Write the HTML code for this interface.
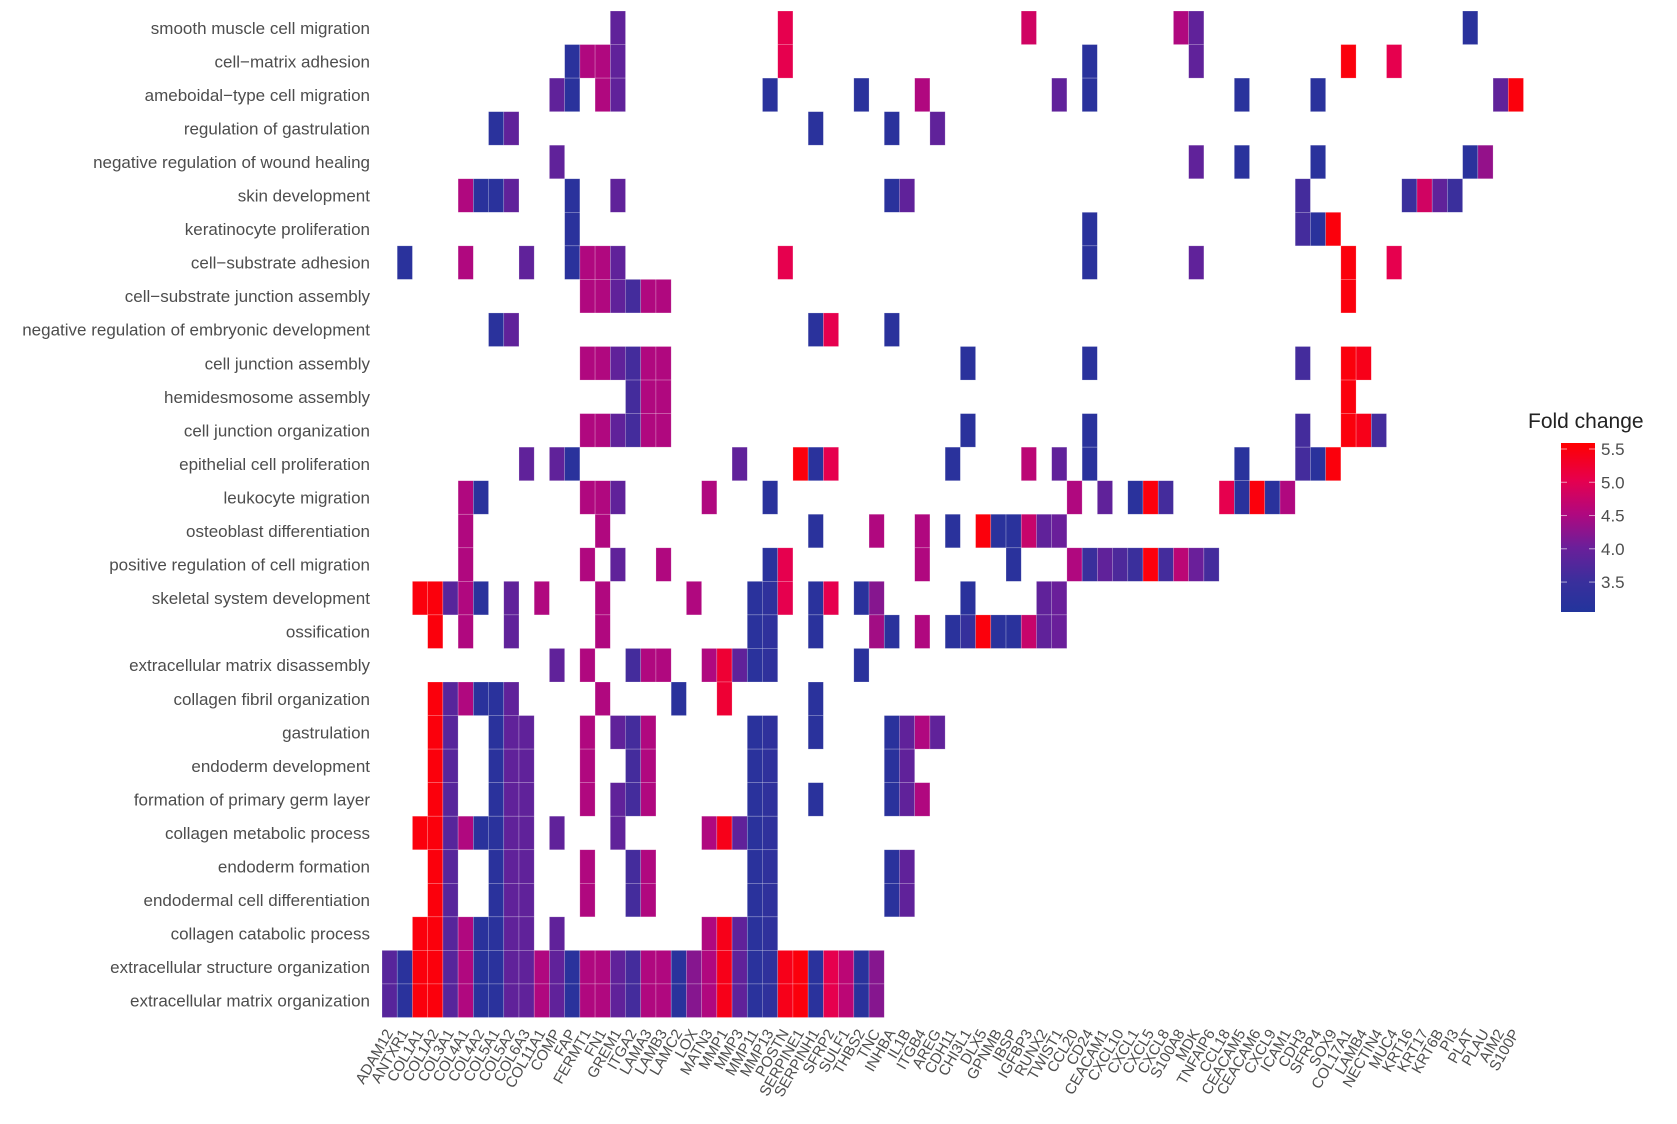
<!DOCTYPE html>
<html>
<head>
<meta charset="utf-8">
<style>
  html,body{margin:0;padding:0;background:#fff;}
  svg{display:block;font-family:"Liberation Sans",Arial,sans-serif;}
</style>
</head>
<body>
<svg id="chart" width="1677" height="1124" viewBox="0 0 1677 1124" xmlns="http://www.w3.org/2000/svg">
  <g id="cells"></g>
  <g id="ylabels"></g>
  <g id="xlabels"></g>
  <g id="legend">
    <defs>
      <linearGradient id="lg" x1="0" y1="1" x2="0" y2="0">
        <stop offset="0" stop-color="#22349c"/>
        <stop offset="0.18" stop-color="#3a2f9c"/>
        <stop offset="0.38" stop-color="#6a1f9a"/>
        <stop offset="0.58" stop-color="#b0087f"/>
        <stop offset="0.78" stop-color="#e6004e"/>
        <stop offset="1" stop-color="#ff0000"/>
      </linearGradient>
    </defs>
    <text x="1528" y="428" font-size="21" fill="#222">Fold change</text>
    <rect x="1561" y="443" width="34" height="169" fill="url(#lg)"/>
    <g id="legendticks"></g>
  </g>
</svg>
<script>
const terms = ["smooth muscle cell migration","cell\u2212matrix adhesion","ameboidal\u2212type cell migration","regulation of gastrulation","negative regulation of wound healing","skin development","keratinocyte proliferation","cell\u2212substrate adhesion","cell\u2212substrate junction assembly","negative regulation of embryonic development","cell junction assembly","hemidesmosome assembly","cell junction organization","epithelial cell proliferation","leukocyte migration","osteoblast differentiation","positive regulation of cell migration","skeletal system development","ossification","extracellular matrix disassembly","collagen fibril organization","gastrulation","endoderm development","formation of primary germ layer","collagen metabolic process","endoderm formation","endodermal cell differentiation","collagen catabolic process","extracellular structure organization","extracellular matrix organization"];
const genes = ["ADAM12","ANTXR1","COL1A1","COL1A2","COL3A1","COL4A1","COL4A2","COL5A1","COL5A2","COL6A3","COL11A1","COMP","FAP","FERMT1","FN1","GREM1","ITGA2","LAMA3","LAMB3","LAMC2","LOX","MATN3","MMP1","MMP3","MMP11","MMP13","POSTN","SERPINE1","SERPINH1","SFRP2","SULF1","THBS2","TNC","INHBA","IL1B","ITGB4","AREG","CDH11","CHI3L1","DLX5","GPNMB","IBSP","IGFBP3","RUNX2","TWIST1","CCL20","CD24","CEACAM1","CXCL10","CXCL1","CXCL5","CXCL8","S100A8","MDK","TNFAIP6","CCL18","CEACAM5","CEACAM6","CXCL9","ICAM1","CDH3","SFRP4","SOX9","COL17A1","LAMB4","NECTIN4","MUC4","KRT16","KRT17","KRT6B","PI3","PLAT","PLAU","AIM2","S100P"];
const legendTicks = [3.5, 4.0, 4.5, 5.0, 5.5];
// per-term sparse values: [geneIndex, foldChange]
const r0 = [[15,3.9],[26,5.0],[42,4.8],[52,4.5],[53,3.9],[71,3.2]];
const r1 = [[12,3.2],[13,4.5],[14,4.5],[15,3.9],[26,5.0],[46,3.2],[53,3.9],[63,5.5],[66,5.0]];
const r2 = [[11,3.9],[12,3.2],[14,4.5],[15,3.9],[25,3.2],[31,3.2],[35,4.5],[44,3.9],[46,3.2],[56,3.2],[61,3.2],[73,3.9],[74,5.5]];
const r3 = [[7,3.2],[8,3.9],[28,3.2],[33,3.2],[36,3.9]];
const r4 = [[11,3.9],[53,3.9],[56,3.2],[61,3.2],[71,3.2],[72,4.3]];
const r5 = [[5,4.5],[6,3.2],[7,3.2],[8,3.9],[12,3.2],[15,3.9],[33,3.2],[34,3.9],[60,3.6],[67,3.5],[68,4.8],[69,3.9],[70,3.5]];
const r6 = [[12,3.2],[46,3.2],[60,3.6],[61,3.2],[62,5.5]];
const r7 = [[1,3.2],[5,4.5],[9,3.9],[12,3.2],[13,4.5],[14,4.5],[15,3.9],[26,5.0],[46,3.2],[53,3.9],[63,5.5],[66,5.0]];
const r8 = [[13,4.5],[14,4.5],[15,3.9],[16,3.6],[17,4.5],[18,4.5],[63,5.5]];
const r9 = [[7,3.2],[8,3.9],[28,3.2],[29,5.0],[33,3.2]];
const r10 = [[13,4.5],[14,4.5],[15,3.9],[16,3.6],[17,4.5],[18,4.5],[38,3.2],[46,3.2],[60,3.6],[63,5.5],[64,5.4]];
const r11 = [[16,3.6],[17,4.5],[18,4.5],[63,5.5]];
const r12 = [[13,4.5],[14,4.5],[15,3.9],[16,3.6],[17,4.5],[18,4.5],[38,3.2],[46,3.2],[60,3.6],[63,5.5],[64,5.4],[65,3.6]];
const r13 = [[9,3.9],[11,3.9],[12,3.2],[23,3.9],[27,5.5],[28,3.2],[29,5.0],[37,3.2],[42,4.6],[44,3.9],[46,3.2],[56,3.2],[60,3.6],[61,3.2],[62,5.5]];
const r14 = [[5,4.5],[6,3.2],[13,4.5],[14,4.5],[15,3.9],[21,4.5],[25,3.2],[45,4.5],[47,3.9],[49,3.2],[50,5.5],[51,3.6],[55,5.0],[56,3.2],[57,5.5],[58,3.2],[59,4.5]];
const r15 = [[5,4.5],[14,4.5],[28,3.2],[32,4.5],[35,4.5],[37,3.2],[39,5.5],[40,3.2],[41,3.2],[42,4.7],[43,3.9],[44,4.0]];
const r16 = [[5,4.5],[13,4.5],[15,3.9],[18,4.5],[25,3.2],[26,5.0],[35,4.5],[41,3.2],[45,4.5],[46,3.5],[47,3.9],[48,3.7],[49,3.5],[50,5.5],[51,3.6],[52,4.6],[53,4.0],[54,3.6]];
const r17 = [[2,5.5],[3,5.5],[4,3.8],[5,4.5],[6,3.2],[8,3.9],[10,4.5],[14,4.5],[20,4.5],[24,3.2],[25,3.3],[26,5.0],[28,3.2],[29,5.0],[31,3.2],[32,4.2],[38,3.2],[43,3.9],[44,4.0]];
const r18 = [[3,5.5],[5,4.5],[8,3.9],[14,4.5],[24,3.2],[25,3.3],[28,3.2],[32,4.4],[33,3.2],[35,4.5],[37,3.2],[38,3.4],[39,5.5],[40,3.2],[41,3.2],[42,4.7],[43,3.9],[44,4.0]];
const r19 = [[11,3.9],[13,4.5],[16,3.6],[17,4.5],[18,4.5],[21,4.5],[22,5.2],[23,3.9],[24,3.2],[25,3.3],[31,3.2]];
const r20 = [[3,5.5],[4,3.8],[5,4.5],[6,3.2],[7,3.2],[8,3.9],[14,4.5],[19,3.2],[22,5.2],[28,3.2]];
const r21 = [[3,5.5],[4,3.8],[7,3.2],[8,3.9],[9,3.9],[13,4.5],[15,3.9],[16,3.6],[17,4.5],[24,3.2],[25,3.3],[28,3.2],[33,3.2],[34,3.9],[35,4.5],[36,3.9]];
const r22 = [[3,5.5],[4,3.8],[7,3.2],[8,3.9],[9,3.9],[13,4.5],[16,3.6],[17,4.5],[24,3.2],[25,3.3],[33,3.2],[34,3.9]];
const r23 = [[3,5.5],[4,3.8],[7,3.2],[8,3.9],[9,3.9],[13,4.5],[15,3.9],[16,3.6],[17,4.5],[24,3.2],[25,3.3],[28,3.2],[33,3.2],[34,3.9],[35,4.5]];
const r24 = [[2,5.5],[3,5.5],[4,3.8],[5,4.5],[6,3.2],[7,3.2],[8,3.9],[9,3.9],[11,3.9],[15,3.9],[21,4.5],[22,5.4],[23,3.9],[24,3.2],[25,3.3]];
const r25 = [[3,5.5],[4,3.8],[7,3.2],[8,3.9],[9,3.9],[13,4.5],[16,3.6],[17,4.5],[24,3.2],[25,3.3],[33,3.2],[34,3.9]];
const r26 = [[3,5.5],[4,3.8],[7,3.2],[8,3.9],[9,3.9],[13,4.5],[16,3.6],[17,4.5],[24,3.2],[25,3.3],[33,3.2],[34,3.9]];
const r27 = [[2,5.5],[3,5.5],[4,3.8],[5,4.5],[6,3.2],[7,3.2],[8,3.9],[9,3.9],[11,3.9],[21,4.5],[22,5.4],[23,3.9],[24,3.2],[25,3.3]];
const r28 = [[0,3.8],[1,3.2],[2,5.5],[3,5.5],[4,3.8],[5,4.5],[6,3.2],[7,3.2],[8,3.9],[9,3.9],[10,4.5],[11,3.9],[12,3.2],[13,4.5],[14,4.5],[15,3.9],[16,3.6],[17,4.5],[18,4.5],[19,3.2],[20,4.2],[21,4.5],[22,5.4],[23,3.9],[24,3.2],[25,3.3],[26,5.4],[27,5.5],[28,3.2],[29,5.0],[30,4.6],[31,3.2],[32,4.2]];
const r29 = [[0,3.8],[1,3.2],[2,5.5],[3,5.5],[4,3.8],[5,4.5],[6,3.2],[7,3.2],[8,3.9],[9,3.9],[10,4.5],[11,3.9],[12,3.2],[13,4.5],[14,4.5],[15,3.9],[16,3.6],[17,4.5],[18,4.5],[19,3.2],[20,4.2],[21,4.5],[22,5.4],[23,3.9],[24,3.2],[25,3.3],[26,5.4],[27,5.5],[28,3.2],[29,5.0],[30,4.6],[31,3.2],[32,4.2]];
const rows = [r0,r1,r2,r3,r4,r5,r6,r7,r8,r9,r10,r11,r12,r13,r14,r15,r16,r17,r18,r19,r20,r21,r22,r23,r24,r25,r26,r27,r28,r29];

const NS = "http://www.w3.org/2000/svg";
const X0 = 382, CW = 15.22, Y0 = 11, RH = 33.55;
const VMIN = 3.05, VMAX = 5.59;
function xScale(i){ return X0 + i*CW; }
function yScale(j){ return Y0 + j*RH; }
const stops = [[3.05,[34,52,156]],[3.5,[58,47,156]],[4.0,[106,31,154]],[4.5,[176,8,127]],[5.0,[230,0,78]],[5.59,[255,0,0]]];
function color(v){
  if (v <= stops[0][0]) return "rgb("+stops[0][1].join(",")+")";
  for (let k=1;k<stops.length;k++){
    if (v <= stops[k][0]){
      const a=stops[k-1], b=stops[k], t=(v-a[0])/(b[0]-a[0]);
      const c=a[1].map((x,q)=>Math.round(x+(b[1][q]-x)*t));
      return "rgb("+c.join(",")+")";
    }
  }
  return "rgb(255,0,0)";
}
function vScale(v){ return 612 - (v-VMIN)/(VMAX-VMIN)*169; }

const cellsG = document.getElementById("cells");
rows.forEach((row,j)=>{
  row.forEach(([gi,v])=>{
    const r = document.createElementNS(NS,"rect");
    r.setAttribute("x", xScale(gi));
    r.setAttribute("y", yScale(j));
    r.setAttribute("width", CW);
    r.setAttribute("height", RH);
    r.setAttribute("fill", color(v));
    r.setAttribute("stroke", "rgba(255,255,255,0.35)");
    r.setAttribute("stroke-width", "0.6");
    
    
    cellsG.appendChild(r);
  });
});

const yl = document.getElementById("ylabels");
terms.forEach((t,j)=>{
  const tx = document.createElementNS(NS,"text");
  tx.setAttribute("x", 370);
  tx.setAttribute("y", yScale(j)+RH/2+6);
  tx.setAttribute("text-anchor","end");
  tx.setAttribute("font-size","17");
  tx.setAttribute("fill","#4d4d4d");
  tx.textContent = t;
  
  
  yl.appendChild(tx);
});

const xl = document.getElementById("xlabels");
genes.forEach((g,i)=>{
  const cx = xScale(i)+CW/2+4, cy = 1033;
  const tx = document.createElementNS(NS,"text");
  tx.setAttribute("x", cx);
  tx.setAttribute("y", cy);
  tx.setAttribute("text-anchor","end");
  tx.setAttribute("font-size","15");
  tx.setAttribute("fill","#4d4d4d");
  tx.setAttribute("transform","rotate(-60 "+cx+" "+cy+")");
  tx.textContent = g;
  
  
  xl.appendChild(tx);
});

const lt = document.getElementById("legendticks");
legendTicks.forEach(v=>{
  const y = vScale(v);
  [1561,1589].forEach(x=>{
    const l = document.createElementNS(NS,"line");
    l.setAttribute("x1",x); l.setAttribute("x2",x+6);
    l.setAttribute("y1",y); l.setAttribute("y2",y);
    l.setAttribute("stroke","rgba(255,255,255,0.6)");
    l.setAttribute("stroke-width","1");
    
    
    lt.appendChild(l);
  });
  const tx = document.createElementNS(NS,"text");
  tx.setAttribute("x",1601);
  tx.setAttribute("y",y+6);
  tx.setAttribute("font-size","17");
  tx.setAttribute("fill","#4d4d4d");
  tx.textContent = v.toFixed(1);
  
  
  lt.appendChild(tx);
});
</script>
</body>
</html>
